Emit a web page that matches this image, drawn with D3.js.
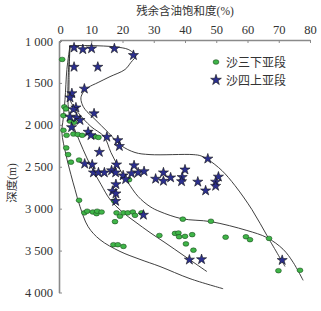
<!DOCTYPE html>
<html>
<head>
<meta charset="utf-8">
<script src="https://cdn.jsdelivr.net/npm/d3@7"></script>
<style>
  body { margin: 0; background: #fff; }
  text { font-family: "Liberation Serif", "Times New Roman", "DejaVu Serif", "Noto Sans CJK SC", serif; fill: #333; }
</style>
</head>
<body>
<div id="chart"></div>
<script>
// axis ticks
const xTicks = [0, 10, 20, 30, 40, 50, 60, 70, 80];
const yTicks = [1000, 1500, 2000, 2500, 3000, 3500, 4000];

// 沙三下亚段 (green circles): [saturation %, depth m]
const es3xSat = [0.7, 1.4, 1.9, 1.1, 3.2, 4.5, 1.1, 2.1, 4.3, 5.7, 7.1, 11.2, 12.3,
  2.0, 2.6, 3.5, 6.1, 22.1, 6.1, 17.4,
  7.8, 8.7, 10.5, 11.7, 11.9, 13.3, 18.1, 19.2, 20.3, 21.7, 23.3, 24.0, 26.1, 17.6,
  17.1, 18.5, 20.3, 31.8, 39.3, 48.3, 36.8, 37.9, 38.1, 40.0, 42.3, 40.3, 42.7,
  53.0, 59.5, 60.8, 66.9, 69.9, 76.8];
const es3xDepth = [1220, 1785, 1810, 1890, 1955, 1970, 2065, 2125, 2110, 2115, 2125, 2140, 2150,
  2275, 2355, 2445, 2420, 2655, 2900, 2910,
  3050, 3030, 3040, 3060, 3030, 3040, 3050, 3090, 3050, 3050, 3040, 3080, 3050, 3155,
  3430, 3430, 3450, 3320, 3125, 3150, 3295, 3290, 3335, 3330, 3310, 3420, 3495,
  3340, 3335, 3370, 3355, 3740, 3735];

// 沙四上亚段 (blue stars)
const es4sSat = [4.5, 7.3, 10.1, 17.4, 23.5, 4.5, 12.1, 7.8, 3.8, 3.2,
  5.1, 4.3, 10.9, 3.2, 5.3, 6.4, 3.7, 9.0, 9.9, 15.0, 18.5, 19.0, 12.6,
  7.9, 10.3, 18.1, 23.7, 10.7, 12.3, 14.2, 16.5, 17.8, 20.2, 21.0, 22.9, 25.0, 26.9,
  30.6, 33.1, 33.1, 35.4, 40.0, 39.1, 38.9, 44.1, 46.6, 50.7, 49.8, 49.8, 47.3,
  17.9, 16.8, 17.9, 17.8, 26.7, 41.4, 45.3, 71.1];
const es4sDepth = [1080, 1100, 1090, 1090, 1170, 1310, 1310, 1570, 1625, 1675,
  1795, 1815, 1865, 1905, 1915, 1945, 2030, 2085, 2125, 2145, 2185, 2255, 2325,
  2465, 2475, 2475, 2485, 2570, 2570, 2570, 2545, 2570, 2605, 2650, 2580, 2570, 2555,
  2645, 2570, 2670, 2630, 2535, 2625, 2675, 2680, 2785, 2620, 2680, 2730, 2405,
  2710, 2790, 2820, 2910, 3075, 3610, 3605, 3615];

// trend curves
const curveASat = [3.2, 9.9, 17.6, 21.8, 23.7, 24.3, 22.7, 20.8, 16.0, 12.2, 9.0, 7.4, 6.7, 7.0, 8.0,
  11.2, 15.4, 19.5, 24.0, 28.8, 42.6, 45.1, 47.4, 51.8, 56.0, 61.4, 66.6, 72.0];
const curveADepth = [1055, 1055, 1070, 1100, 1150, 1175, 1255, 1340, 1425, 1495, 1555, 1615, 1675, 1745, 1815,
  1935, 2090, 2245, 2330, 2355, 2355, 2370, 2415, 2545, 2725, 3010, 3345, 3690];
const curveBSat = [3.2, 2.9, 3.2, 5.8, 9.9, 14.1, 16.3, 19.2, 21.8, 25.0, 28.8, 32.0, 39.0, 48.3,
  59.8, 66.2, 71.4, 74.6, 77.8];
const curveBDepth = [1055, 1460, 1700, 1855, 2020, 2140, 2330, 2535, 2690, 2855, 2975, 3035, 3120, 3155,
  3260, 3345, 3485, 3640, 3855];
const curveCSat = [3.2, 2.6, 2.6, 3.2, 5.1, 7.4, 9.9, 13.1, 16.0, 19.8, 24.0, 28.8, 33.6, 40.0, 47.0];
const curveCDepth = [1055, 1460, 1760, 1915, 2090, 2295, 2495, 2710, 2890, 3035, 3155, 3285, 3405, 3570, 3750];
const curveDSat = [3.2, 2.2, 1.6, 1.0, 0.6, 1.9, 3.5, 4.8, 6.4, 9.0, 12.8, 19.2, 25.6, 32.0, 41.6, 52.2];
const curveDDepth = [1055, 1340, 1700, 1935, 2090, 2355, 2595, 2770, 2975, 3215, 3370, 3510, 3605, 3690, 3835, 3955];

const W = 321, H = 311;
const svg = d3.select("#chart").append("svg")
    .attr("width", W)
    .attr("height", H);

const x = d3.scaleLinear().domain([0, 80]).range([60, 310]);
const y = d3.scaleLinear().domain([1000, 4000]).range([41, 292.5]);

const fmt = d => d3.format(",")(d).replace(",", " ");
const serif = "'Liberation Serif', 'Times New Roman', 'DejaVu Serif', serif";

// top axis
const xAxis = svg.append("g")
    .attr("transform", `translate(0,${y(1000) - 1})`)
    .call(d3.axisTop(x).tickValues(xTicks).tickSize(-3).tickPadding(6).tickSizeOuter(0));
// left axis
const yAxis = svg.append("g")
    .attr("transform", `translate(${x(0) - 1},0)`)
    .call(d3.axisLeft(y).tickValues(yTicks).tickSize(-3).tickPadding(6).tickFormat(fmt).tickSizeOuter(0));

[xAxis, yAxis].forEach(g => {
    g.attr("font-family", serif).attr("font-size", 12.5);
    g.select(".domain").attr("stroke", "#8a8a8a").attr("stroke-width", 1.6);
    g.selectAll(".tick line").attr("stroke", "#8a8a8a");
    g.selectAll("text")
        .style("font-family", serif)
        .style("font-size", "12.5px")
        .attr("fill", "#333");
});
xAxis.selectAll("text").attr("dy", "0");

// titles
svg.append("text")
    .attr("x", 185)
    .attr("y", 15)
    .attr("text-anchor", "middle")
    .style("font-size", "11.5px")
    .text("残余含油饱和度(%)");

svg.append("text")
    .attr("transform", "translate(16,183) rotate(-90)")
    .attr("text-anchor", "middle")
    .style("font-size", "11.5px")
    .text("深度(m)");

// curves
const line = d3.line()
    .x(d => x(d[0]))
    .y(d => y(d[1]))
    .curve(d3.curveCatmullRom.alpha(0.5));

[[curveASat, curveADepth], [curveBSat, curveBDepth], [curveCSat, curveCDepth], [curveDSat, curveDDepth]]
    .forEach(([s, dpt]) => {
        svg.append("path")
            .datum(s.map((v, i) => [v, dpt[i]]))
            .attr("fill", "none")
            .attr("stroke", "#2a2a2a")
            .attr("stroke-width", 0.9)
            .attr("d", line);
    });

// green circles
svg.append("g").selectAll("ellipse")
    .data(es3xSat.map((v, i) => [v, es3xDepth[i]]))
    .enter().append("ellipse")
    .attr("cx", d => x(d[0]))
    .attr("cy", d => y(d[1]))
    .attr("rx", 2.9)
    .attr("ry", 2.3)
    .attr("fill", "#3fb548")
    .attr("stroke", "#1f4d22")
    .attr("stroke-width", 0.6);

// blue stars
const star = d3.symbol().type(d3.symbolStar).size(32);
svg.append("g").selectAll("path")
    .data(es4sSat.map((v, i) => [v, es4sDepth[i]]))
    .enter().append("path")
    .attr("transform", d => `translate(${x(d[0])},${y(d[1])})`)
    .attr("d", star)
    .attr("fill", "#2b2f8f")
    .attr("stroke", "#141414")
    .attr("stroke-width", 0.6);

// legend
const legend = svg.append("g");
legend.append("ellipse")
    .attr("cx", 216).attr("cy", 62)
    .attr("rx", 2.9).attr("ry", 2.3)
    .attr("fill", "#3fb548").attr("stroke", "#1f4d22").attr("stroke-width", 0.6);
legend.append("path")
    .attr("transform", "translate(216,80)")
    .attr("d", d3.symbol().type(d3.symbolStar).size(36))
    .attr("fill", "#2b2f8f").attr("stroke", "#141414").attr("stroke-width", 0.6);
legend.append("text")
    .attr("x", 226).attr("y", 66.5)
    .style("font-size", "12px")
    .text("沙三下亚段");
legend.append("text")
    .attr("x", 226).attr("y", 84.5)
    .style("font-size", "12px")
    .text("沙四上亚段");
</script>
</body>
</html>
